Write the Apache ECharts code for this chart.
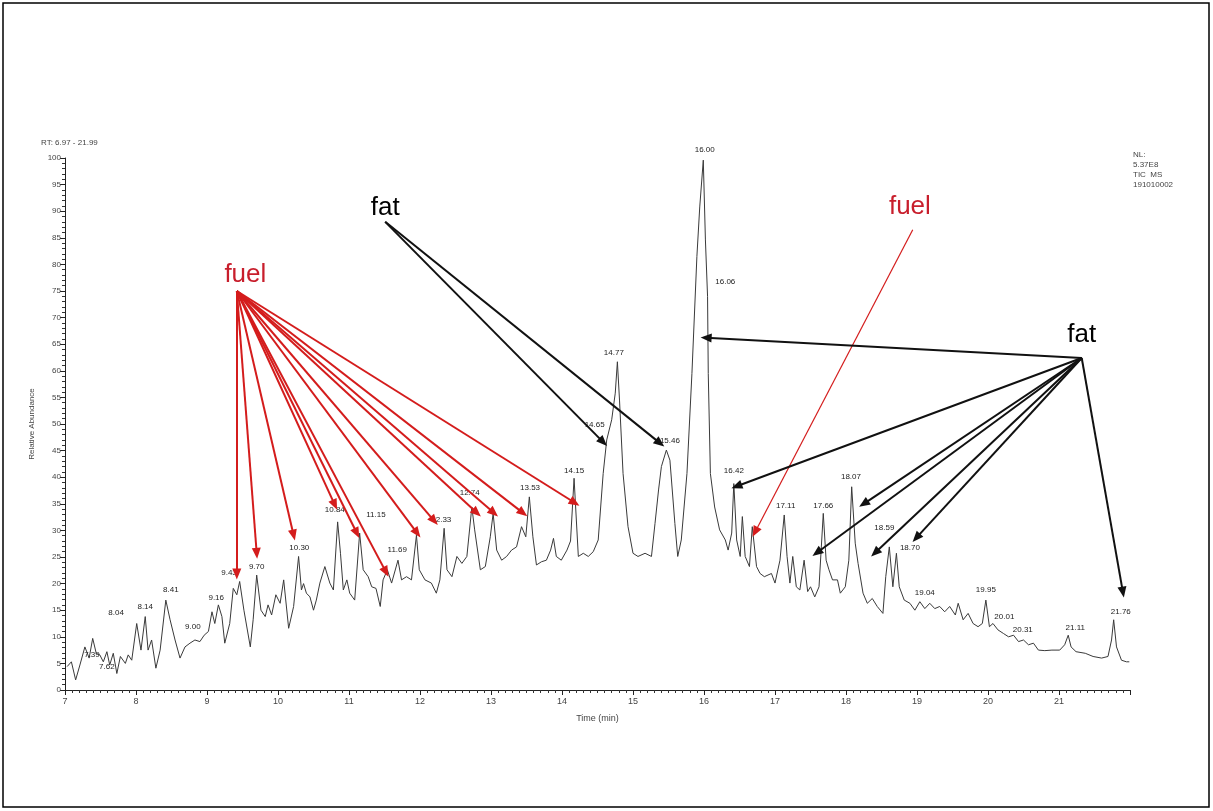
<!DOCTYPE html>
<html>
<head>
<meta charset="utf-8">
<script src="https://cdn.jsdelivr.net/npm/echarts@6/dist/echarts.min.js"></script>
<style>html,body{margin:0;padding:0;background:#fff;}#chart{width:1213px;height:811px;}</style>
</head>
<body>
<div id="chart"></div>
<script>
// ---- Chromatogram trace (retention time in min, relative abundance %) ----
var traceTime = [7.03,7.09,7.15,7.21,7.28,7.34,7.39,7.44,7.49,7.54,7.59,7.63,7.68,7.73,7.78,7.85,7.89,7.94,8.01,8.07,8.13,8.17,8.22,8.28,8.34,8.42,8.48,8.55,8.62,8.69,8.76,8.83,8.90,8.96,9.02,9.07,9.11,9.16,9.21,9.25,9.32,9.37,9.42,9.46,9.52,9.61,9.65,9.70,9.76,9.82,9.86,9.91,9.97,10.03,10.08,10.15,10.22,10.29,10.33,10.36,10.40,10.45,10.50,10.54,10.59,10.66,10.73,10.78,10.84,10.88,10.92,10.97,11.01,11.08,11.15,11.20,11.27,11.32,11.38,11.44,11.48,11.54,11.60,11.69,11.74,11.81,11.88,11.95,11.99,12.07,12.16,12.23,12.28,12.34,12.38,12.45,12.52,12.59,12.66,12.73,12.77,12.85,12.92,12.99,13.03,13.08,13.15,13.22,13.29,13.36,13.43,13.49,13.54,13.59,13.64,13.71,13.78,13.84,13.88,13.92,13.99,14.07,14.12,14.17,14.23,14.30,14.37,14.44,14.51,14.58,14.63,14.70,14.75,14.78,14.81,14.86,14.93,15.00,15.07,15.17,15.26,15.31,15.36,15.40,15.47,15.52,15.59,15.63,15.68,15.76,15.83,15.90,15.94,15.99,16.02,16.05,16.06,16.09,16.15,16.22,16.30,16.34,16.39,16.42,16.46,16.51,16.54,16.58,16.64,16.68,16.74,16.79,16.85,16.95,17.00,17.07,17.13,17.17,17.21,17.25,17.30,17.35,17.41,17.46,17.50,17.56,17.62,17.68,17.72,17.76,17.81,17.88,17.92,17.99,18.04,18.08,18.13,18.17,18.24,18.30,18.37,18.44,18.52,18.56,18.61,18.66,18.71,18.75,18.82,18.90,18.97,19.04,19.11,19.18,19.25,19.32,19.39,19.46,19.54,19.58,19.65,19.72,19.79,19.86,19.92,19.97,20.02,20.07,20.14,20.22,20.29,20.36,20.43,20.50,20.57,20.64,20.71,20.80,20.90,21.01,21.08,21.13,21.17,21.24,21.37,21.48,21.60,21.69,21.74,21.77,21.81,21.88,21.95,21.99];
var traceAbund = [4.4,5.3,1.9,4.7,8.1,6.0,9.7,6.9,6.6,5.3,7.2,4.7,6.9,3.1,6.3,5.0,6.6,5.6,12.5,7.5,13.8,7.5,9.4,4.1,7.5,16.9,13.2,9.4,6.0,8.1,8.8,9.4,9.1,10.3,11.0,14.7,12.5,16.0,13.8,8.8,12.5,19.1,17.9,20.4,15.0,8.1,13.2,21.6,15.0,13.8,16.0,14.1,17.9,16.3,20.7,11.6,15.7,25.1,18.8,20.0,18.2,17.5,15.0,16.9,20.1,23.2,20.1,18.8,31.6,25.7,18.8,20.7,18.2,16.9,29.5,22.6,21.3,19.4,19.1,15.7,20.7,22.6,20.1,24.4,20.7,21.3,20.7,29.1,22.6,20.7,20.1,18.2,20.7,30.4,22.6,21.3,25.1,23.8,25.1,34.4,30.1,22.6,23.2,28.8,33.2,26.3,24.4,25.1,26.3,26.9,30.7,28.8,36.3,28.8,23.5,24.1,24.4,26.3,28.5,25.1,24.4,26.3,28.0,39.8,25.1,25.7,25.1,26.0,28.2,40.7,47.0,50.8,55.8,61.7,54.5,40.7,30.7,25.7,25.1,25.7,25.1,31.3,37.6,42.0,45.1,43.2,31.3,25.1,28.2,40.7,59.5,81.5,90.8,99.6,84.6,74.0,59.5,40.7,34.4,30.1,28.2,26.3,29.5,38.8,28.2,25.1,32.6,25.1,23.2,30.7,23.2,21.9,21.3,21.9,20.1,24.4,32.9,25.1,20.1,25.1,19.4,18.8,24.4,18.5,19.4,17.5,19.4,33.2,24.4,22.6,20.7,20.7,18.2,19.4,24.4,38.2,27.6,23.8,18.2,16.3,17.2,15.7,14.4,21.3,26.9,19.4,25.7,19.4,16.9,16.3,15.0,16.6,15.3,16.3,15.3,15.7,14.7,15.7,14.1,16.3,13.2,14.4,12.5,11.9,12.5,16.9,11.9,12.5,11.3,10.6,10.0,10.3,9.1,9.4,8.5,8.8,7.5,7.4,7.5,7.5,8.5,10.3,8.1,7.2,6.9,6.3,6.0,6.3,9.4,13.2,8.1,5.6,5.3,5.3];

// ---- Peak retention-time labels and where they sit (data coords) ----
var peakLabels = ['7.39','7.62','8.04','8.14','8.41','9.00','9.16','9.43','9.70','10.30','10.84','11.15','11.69','12.33','12.74','13.53','14.15','14.65','14.77','15.46','16.00','16.06','16.42','17.11','17.66','18.07','18.59','18.70','19.04','19.95','20.01','20.31','21.11','21.76'];
var peakLabelX = [7.38,7.59,7.72,8.13,8.49,8.80,9.13,9.31,9.70,10.30,10.80,11.38,11.68,12.30,12.70,13.55,14.17,14.46,14.73,15.52,16.01,16.30,16.42,17.15,17.68,18.07,18.54,18.90,19.11,19.97,20.23,20.49,21.23,21.87];
var peakLabelY = [6.6,4.3,14.5,15.6,18.8,11.8,17.3,22.0,23.1,26.7,33.8,32.9,26.3,32.0,37.0,38.0,41.2,49.8,63.3,46.8,101.5,76.7,41.2,34.6,34.6,40.0,30.5,26.7,18.2,18.8,13.7,11.3,11.7,14.7];

// ---- Annotation words ----
var noteText = ['fat','fuel','fuel','fat'];
var noteX = [11.51,9.54,18.90,21.32];
var noteY = [90.6,78.0,90.8,66.7];
var noteColor = ['#000000','#c81e2c','#c81e2c','#000000'];

// ---- Arrows: origin and targets (data coords) ----
var fuelLeftFrom = [9.42,75.0];
var fuelLeftToX = [9.42,9.70,10.22,10.80,11.11,11.52,11.96,12.20,12.80,13.04,13.45,14.18];
var fuelLeftToY = [21.8,25.7,29.1,34.8,29.5,22.2,29.5,31.8,33.3,33.3,33.3,35.2];
var fuelRightFrom = [18.94,86.5];
var fuelRightTo = [16.72,29.7];
var fatLeftFrom = [11.51,88.0];
var fatLeftToX = [14.58,15.38];
var fatLeftToY = [46.6,46.4];
var fatRightFrom = [21.32,62.4];
var fatRightToX = [16.03,16.46,18.25,17.59,18.41,18.99,21.90];
var fatRightToY = [66.2,38.3,35.0,25.8,25.8,28.6,18.4];

var traceData = traceTime.map(function(t,i){ return [t, traceAbund[i]]; });
var labelData = peakLabels.map(function(s,i){ return [peakLabelX[i], peakLabelY[i], s]; });
var noteData = noteText.map(function(s,i){ return {value:[noteX[i], noteY[i], s], label:{color:noteColor[i], textBorderWidth:0}}; });

var arrowLines = [];
function addArrows(from, xs, ys, color, width, head){
  xs.forEach(function(x,i){
    arrowLines.push([
      {coord:from, symbol:'none', symbolSize:0, lineStyle:{color:color, width:width, type:'solid'}, itemStyle:{color:color}},
      {coord:[x, ys[i]], symbol:'triangle', symbolSize:head, itemStyle:{color:color}}
    ]);
  });
}
addArrows(fuelLeftFrom, fuelLeftToX, fuelLeftToY, '#d41c1c', 2, [9,11]);
addArrows(fuelRightFrom, [fuelRightTo[0]], [fuelRightTo[1]], '#d41c1c', 1.2, [9,11]);
addArrows(fatLeftFrom, fatLeftToX, fatLeftToY, '#111111', 2, [9,11]);
addArrows(fatRightFrom, fatRightToX, fatRightToY, '#111111', 2, [9,11]);

var chart = echarts.init(document.getElementById('chart'), null, {renderer:'canvas'});
var FONT = 'Liberation Sans, Arial, sans-serif';
chart.setOption({
  animation: false,
  backgroundColor: '#ffffff',
  title: [
    {text:'RT: 6.97 - 21.99', left:36, top:134, textStyle:{fontSize:8, fontWeight:'normal', color:'#444', fontFamily:FONT}},
    {text:'NL:\n5.37E8\nTIC  MS\n191010002', left:1128, top:145, textStyle:{fontSize:8, lineHeight:10, fontWeight:'normal', color:'#444', fontFamily:FONT}}
  ],
  graphic: [{type:'rect', shape:{x:3, y:3, width:1206, height:804}, style:{fill:'none', stroke:'#000', lineWidth:1.5}, silent:true}],
  grid: {left:65, right:83, top:158, bottom:121, containLabel:false},
  xAxis: {
    type:'value', min:7, max:22, interval:1,
    name:'Time (min)', nameLocation:'middle', nameGap:24,
    nameTextStyle:{fontSize:9, color:'#444', fontFamily:FONT},
    axisLine:{show:true, lineStyle:{color:'#222', width:1}},
    axisTick:{show:true, length:5, lineStyle:{color:'#222'}},
    minorTick:{show:true, splitNumber:10, length:3, lineStyle:{color:'#333'}},
    axisLabel:{fontSize:9, color:'#444', margin:7, showMaxLabel:false, fontFamily:FONT},
    splitLine:{show:false}
  },
  yAxis: {
    type:'value', min:0, max:100, interval:5,
    name:'Relative Abundance', nameLocation:'middle', nameGap:29,
    nameTextStyle:{fontSize:8, color:'#444', fontFamily:FONT},
    axisLine:{show:true, lineStyle:{color:'#222', width:1}},
    axisTick:{show:true, length:5, lineStyle:{color:'#222'}},
    minorTick:{show:true, splitNumber:5, length:3, lineStyle:{color:'#333'}},
    axisLabel:{fontSize:8, color:'#444', margin:4, fontFamily:FONT},
    splitLine:{show:false}
  },
  series: [
    {
      type:'line', data:traceData, showSymbol:false, symbol:'none', smooth:false,
      lineStyle:{color:'#3a3a3a', width:1}, z:2, silent:true,
      markLine:{
        silent:true, animation:false,
        lineStyle:{type:'solid'},
        label:{show:false}, emphasis:{disabled:true},
        data: arrowLines
      }
    },
    {
      type:'scatter', data:labelData, symbolSize:0, clip:false, silent:true, z:3,
      itemStyle:{opacity:1},
      label:{show:true, position:'inside', formatter:function(p){return p.value[2];}, fontSize:8, color:'#222', textBorderWidth:0, fontFamily:FONT}
    },
    {
      type:'scatter', data:noteData, symbolSize:0, clip:false, silent:true, z:4,
      itemStyle:{opacity:1},
      label:{show:true, position:'inside', formatter:function(p){return p.value[2];}, fontSize:26, textBorderWidth:0, fontFamily:FONT}
    }
  ]
});
</script>
</body>
</html>
